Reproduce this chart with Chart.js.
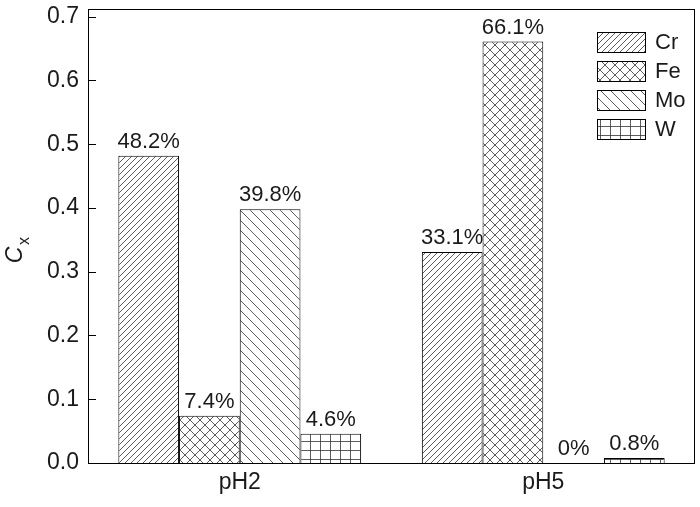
<!DOCTYPE html>
<html>
<head>
<meta charset="utf-8">
<script src="https://cdn.jsdelivr.net/npm/chart.js@4.4.0/dist/chart.umd.min.js"></script>
<style>
    html, body { margin: 0; padding: 0; background: #fff; }
    #wrap { width: 700px; height: 507px; }
</style>
</head>
<body>
<div id="wrap"><canvas id="chart"></canvas></div>
<script>
// data
const categories = ['pH2', 'pH5'];
const seriesNames = ['Cr', 'Fe', 'Mo', 'W'];
const crValues = [0.482, 0.331];
const feValues = [0.074, 0.661];
const moValues = [0.398, 0];
const wValues  = [0.046, 0.008];
const yTicks = [0.0, 0.1, 0.2, 0.3, 0.4, 0.5, 0.6, 0.7];

const FONT = "'Liberation Sans', Arial, sans-serif";
const INK = '#1a1a1a';

// hatch fills
function hatch(type) {
    let w = 10, h = 10;
    if (type === 'fwd') { w = 6; h = 6; }
    if (type === 'grid') { w = 10; h = 9; }
    const c = document.createElement('canvas');
    c.width = w; c.height = h;
    const g = c.getContext('2d');
    g.fillStyle = '#fff';
    g.fillRect(0, 0, w, h);
    g.strokeStyle = '#333';
    g.lineWidth = 0.8;
    g.beginPath();
    if (type === 'fwd' || type === 'cross') {
        g.moveTo(-1, h + 1); g.lineTo(w + 1, -1);
        g.moveTo(-1, 1); g.lineTo(1, -1);
        g.moveTo(w - 1, h + 1); g.lineTo(w + 1, h - 1);
    }
    if (type === 'back' || type === 'cross') {
        g.moveTo(-1, -1); g.lineTo(w + 1, h + 1);
        g.moveTo(w - 1, -1); g.lineTo(w + 1, 1);
        g.moveTo(-1, h - 1); g.lineTo(1, h + 1);
    }
    if (type === 'grid') {
        g.moveTo(0.5, 0); g.lineTo(0.5, h);
        g.moveTo(0, 0.5); g.lineTo(w, 0.5);
    }
    g.stroke();
    return document.getElementById('chart').getContext('2d').createPattern(c, 'repeat');
}

const fills = [hatch('fwd'), hatch('cross'), hatch('back'), hatch('grid')];
const seriesValues = [crValues, feValues, moValues, wValues];

function pct(v) {
    return v === 0 ? '0%' : (v * 100).toFixed(1) + '%';
}

// value labels above bars, inward ticks, frame, legend, y title
const decorations = {
    id: 'decorations',
    afterDatasetsDraw(chart) {
        const ctx = chart.ctx;
        ctx.save();
        ctx.font = '22px ' + FONT;
        ctx.fillStyle = INK;
        ctx.textAlign = 'center';
        ctx.textBaseline = 'bottom';
        chart.data.datasets.forEach((ds, i) => {
            chart.getDatasetMeta(i).data.forEach((bar, j) => {
                ctx.fillText(pct(ds.data[j]), bar.x, bar.y - 3);
            });
        });
        ctx.restore();
    },
    afterDraw(chart) {
        const ctx = chart.ctx;
        const a = chart.chartArea;
        const y = chart.scales.y;
        ctx.save();
        ctx.strokeStyle = '#000';
        ctx.lineWidth = 1;
        ctx.strokeRect(Math.round(a.left) + 0.5, Math.round(a.top) + 0.5,
            Math.round(a.right - a.left) - 1, Math.round(a.bottom - a.top));
        ctx.beginPath();
        yTicks.forEach(v => {
            const py = Math.round(y.getPixelForValue(v)) + 0.5;
            ctx.moveTo(a.left, py);
            ctx.lineTo(a.left + 8, py);
        });
        ctx.stroke();

        // legend
        const lx = a.right - 98, ly = a.top + 23;
        ctx.font = '22px ' + FONT;
        ctx.textAlign = 'left';
        ctx.textBaseline = 'middle';
        chart.data.datasets.forEach((ds, i) => {
            const top = ly + i * 29;
            ctx.fillStyle = ds.backgroundColor;
            ctx.fillRect(lx, top, 48, 20);
            ctx.strokeRect(lx + 0.5, top + 0.5, 48, 20);
            ctx.fillStyle = INK;
            ctx.fillText(ds.label, lx + 58, top + 11);
        });

        // y axis title C_x
        ctx.translate(16, 255);
        ctx.rotate(-Math.PI / 2);
        ctx.textAlign = 'center';
        ctx.font = 'italic 23px ' + FONT;
        ctx.fillText('C', 0, 0);
        ctx.font = '16px ' + FONT;
        ctx.fillText('x', 14, 9);
        ctx.restore();
    }
};

new Chart(document.getElementById('chart'), {
    type: 'bar',
    data: {
        labels: categories,
        datasets: seriesNames.map((name, i) => ({
            label: name,
            data: seriesValues[i],
            backgroundColor: fills[i],
            borderColor: '#000',
            borderWidth: 1,
            categoryPercentage: 0.8,
            barPercentage: 1.0
        }))
    },
    options: {
        responsive: true,
        maintainAspectRatio: false,
        animation: false,
        layout: { padding: { top: 9, right: 5, left: 0, bottom: 0 } },
        plugins: {
            legend: { display: false },
            tooltip: { enabled: false }
        },
        scales: {
            x: {
                grid: { display: false, drawTicks: false },
                border: { display: false },
                ticks: { color: INK, font: { family: FONT, size: 23 }, padding: 6 },
                afterFit(scale) {
                    scale.height = 44;
                    scale.paddingLeft = 0;
                    scale.paddingRight = 0;
                }
            },
            y: {
                min: 0,
                max: 0.712,
                grid: { display: false, drawTicks: false },
                border: { display: false },
                ticks: {
                    color: INK,
                    font: { family: FONT, size: 23 },
                    padding: 9,
                    callback: v => v.toFixed(1)
                },
                afterBuildTicks(scale) { scale.ticks = yTicks.map(v => ({ value: v })); },
                afterFit(scale) {
                    scale.width = 88;
                    scale.paddingTop = 0;
                    scale.paddingBottom = 0;
                }
            }
        }
    },
    plugins: [decorations]
});
</script>
</body>
</html>
